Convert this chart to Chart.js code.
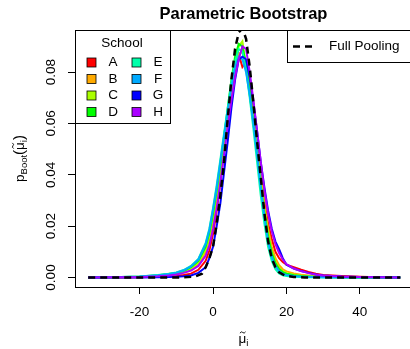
<!DOCTYPE html>
<html>
<head>
<meta charset="utf-8">
<script src="https://cdn.jsdelivr.net/npm/chart.js@4.4.1/dist/chart.umd.min.js"></script>
<style>
  html, body { margin: 0; padding: 0; background: #fff; overflow: hidden; }
  #wrap { width: 410px; height: 349px; overflow: hidden; }
</style>
</head>
<body>
<div id="wrap"><canvas id="bootChart" width="414" height="349"></canvas></div>
<script>
// schools and their colours (rainbow(9) in R)
const schools = ['A', 'B', 'C', 'D', 'E', 'F', 'G', 'H'];
const schoolColors = ['#FF0000', '#FFAA00', '#AAFF00', '#00FF00', '#00FFAA', '#00AAFF', '#0000FF', '#AA00FF'];

// x grid for the school densities
const muGrid = [-34, -25, -20, -15, -12, -10, -8, -6, -4, -2, -1, 0, 1, 2, 3, 4, 5, 6, 7, 8, 9, 10,
  11, 12, 13, 14, 15, 16, 17, 18, 19, 20, 22, 24, 26, 28, 30, 35, 40, 45, 51];

const densA = [0, 0, 0.0001, 0.0003, 0.0005, 0.0007, 0.001, 0.0015, 0.003, 0.0065, 0.0105, 0.017, 0.026, 0.037, 0.049, 0.061, 0.072, 0.081, 0.087, 0.082, 0.084, 0.074,
  0.063, 0.051, 0.039, 0.029, 0.021, 0.015, 0.010, 0.0075, 0.006, 0.005, 0.004, 0.003, 0.0022, 0.0015, 0.001, 0.0006, 0.0003, 0.0001, 0];
const densB = [0, 0.0001, 0.0002, 0.0005, 0.0009, 0.0013, 0.002, 0.003, 0.005, 0.010, 0.015, 0.022, 0.031, 0.041, 0.052, 0.063, 0.073, 0.082, 0.087, 0.088, 0.083, 0.074,
  0.063, 0.051, 0.039, 0.028, 0.019, 0.012, 0.0075, 0.0048, 0.0032, 0.0024, 0.0016, 0.0011, 0.0008, 0.0005, 0.0003, 0.0001, 0, 0, 0];
const densC = [0, 0.0002, 0.0004, 0.0009, 0.0015, 0.0017, 0.0022, 0.0035, 0.0058, 0.011, 0.016, 0.024, 0.033, 0.043, 0.053, 0.064, 0.075, 0.084, 0.090, 0.092, 0.082, 0.071,
  0.062, 0.050, 0.037, 0.026, 0.017, 0.010, 0.006, 0.0037, 0.0024, 0.0017, 0.0011, 0.0007, 0.0005, 0.0003, 0.0002, 0.0001, 0, 0, 0];
const densD = [0, 0.0001, 0.0003, 0.0008, 0.0013, 0.0018, 0.0026, 0.004, 0.0065, 0.012, 0.0175, 0.025, 0.034, 0.044, 0.055, 0.066, 0.077, 0.086, 0.091, 0.090, 0.083, 0.072,
  0.060, 0.048, 0.036, 0.025, 0.016, 0.0095, 0.0055, 0.0033, 0.0021, 0.0015, 0.0009, 0.0006, 0.0004, 0.0003, 0.0002, 0.0001, 0, 0, 0];
const densE = [0, 0.0002, 0.0004, 0.001, 0.0015, 0.002, 0.0029, 0.0045, 0.0072, 0.0135, 0.019, 0.027, 0.036, 0.046, 0.056, 0.066, 0.076, 0.084, 0.089, 0.088, 0.081, 0.070,
  0.058, 0.045, 0.032, 0.021, 0.012, 0.0065, 0.0032, 0.0016, 0.0009, 0.0006, 0.0003, 0.0002, 0.0001, 0.0001, 0, 0, 0, 0, 0];
const densF = [0, 0.0002, 0.0004, 0.0009, 0.0014, 0.0019, 0.0028, 0.0043, 0.007, 0.013, 0.0185, 0.0265, 0.035, 0.045, 0.055, 0.065, 0.074, 0.082, 0.086, 0.085, 0.080, 0.071,
  0.060, 0.048, 0.035, 0.024, 0.014, 0.008, 0.0045, 0.0025, 0.0015, 0.001, 0.0006, 0.0004, 0.0003, 0.0002, 0.0001, 0, 0, 0, 0];
const densG = [0, 0, 0, 0.0001, 0.0002, 0.0003, 0.0005, 0.0008, 0.0018, 0.004, 0.0075, 0.012, 0.020, 0.029, 0.041, 0.053, 0.066, 0.077, 0.085, 0.086, 0.085, 0.078,
  0.068, 0.057, 0.045, 0.035, 0.026, 0.019, 0.014, 0.011, 0.0075, 0.005, 0.0035, 0.0025, 0.0018, 0.0012, 0.0008, 0.0004, 0.0002, 0.0001, 0];
const densH = [0, 0.0001, 0.0002, 0.0005, 0.0008, 0.0012, 0.0018, 0.0027, 0.0045, 0.0085, 0.0125, 0.019, 0.027, 0.037, 0.048, 0.059, 0.069, 0.078, 0.085, 0.090, 0.089, 0.080,
  0.069, 0.057, 0.045, 0.034, 0.025, 0.018, 0.013, 0.0095, 0.007, 0.0052, 0.0035, 0.0025, 0.0017, 0.0012, 0.0008, 0.0004, 0.0002, 0.0001, 0];
const schoolDens = [densA, densB, densC, densD, densE, densF, densG, densH];

// full pooling curve
const poolGrid = [-34, -10, -5, -3, -2, -1, 0, 1, 2, 3, 4, 5, 6, 7, 8, 9, 10, 11, 12, 13, 14, 15, 16, 17, 18, 19, 20, 22, 25, 51];
const poolDens = [0, 0, 0.0003, 0.0015, 0.004, 0.0075, 0.012, 0.021, 0.032, 0.045, 0.062, 0.077, 0.089, 0.0955, 0.097, 0.093, 0.082,
  0.068, 0.053, 0.039, 0.025, 0.014, 0.0075, 0.004, 0.002, 0.0012, 0.0006, 0.0002, 0, 0];

const xTicks = [-20, 0, 20, 40];
const yTicks = [0, 0.02, 0.04, 0.06, 0.08];

const FONT = '"Liberation Sans", Arial, Helvetica, sans-serif';

const datasets = schools.map((s, i) => ({
  label: s,
  data: muGrid.map((x, j) => ({ x: x, y: schoolDens[i][j] })),
  borderColor: schoolColors[i],
  borderWidth: 2,
  pointRadius: 0,
  order: 8 - i
}));
datasets.push({
  label: 'Full Pooling',
  data: poolGrid.map((x, j) => ({ x: x, y: poolDens[j] })),
  borderColor: '#000000',
  borderWidth: 2.5,
  borderDash: [7, 5],
  pointRadius: 0,
  order: 0
});

// writes "mu" with a tilde on top, left edge at x, baseline at y; returns the width
function muTilde(ctx, x, y, size) {
  ctx.font = size + 'px ' + FONT;
  const w = ctx.measureText('\u03BC').width;
  ctx.fillText('\u03BC', x, y);
  const cx = x + w / 2 + 0.3, ty = y - size * 0.78, tw = size * 0.42;
  ctx.save();
  ctx.lineWidth = 0.9;
  ctx.strokeStyle = '#000';
  ctx.beginPath();
  ctx.moveTo(cx - tw / 2, ty + 0.7);
  ctx.quadraticCurveTo(cx - tw / 4, ty - 1.6, cx, ty);
  ctx.quadraticCurveTo(cx + tw / 4, ty + 1.6, cx + tw / 2, ty - 0.7);
  ctx.stroke();
  ctx.restore();
  return w;
}

// R style frame, titles and the two legends
const rDecor = {
  id: 'rDecor',
  afterDraw(chart) {
    const ctx = chart.ctx;
    const a = chart.chartArea;
    ctx.save();
    ctx.strokeStyle = '#000';
    ctx.lineWidth = 1;
    ctx.strokeRect(a.left + 0.5, a.top + 0.5, a.right - a.left, a.bottom - a.top);

    // main title
    ctx.fillStyle = '#000';
    ctx.font = 'bold 16.5px ' + FONT;
    ctx.textAlign = 'center';
    ctx.textBaseline = 'middle';
    ctx.fillText('Parametric Bootstrap', (a.left + a.right) / 2, 14);

    // x axis title
    ctx.textBaseline = 'alphabetic';
    ctx.textAlign = 'left';
    ctx.font = '13.5px ' + FONT;
    const wMu = ctx.measureText('\u03BC').width;
    ctx.font = '9.5px ' + FONT;
    const wI = ctx.measureText('i').width;
    const sx = (a.left + a.right) / 2 - (wMu + wI) / 2;
    muTilde(ctx, sx, 343, 13.5);
    ctx.font = '9.5px ' + FONT;
    ctx.fillText('i', sx + wMu, 346);

    // y axis title, rotated
    const pieces = [
      { t: 'p', f: '13.5px ', dy: 0 },
      { t: 'Boot', f: '9.5px ', dy: 3 },
      { t: '(', f: '15px ', dy: 0.5 },
      { t: 'mu', f: '13.5px ', dy: 0 },
      { t: 'i', f: '9.5px ', dy: 3 },
      { t: ')', f: '15px ', dy: 0.5 }
    ];
    let total = 0;
    pieces.forEach(p => {
      ctx.font = p.f + FONT;
      p.w = ctx.measureText(p.t === 'mu' ? '\u03BC' : p.t).width;
      total += p.w;
    });
    ctx.save();
    ctx.translate(19, (a.top + a.bottom) / 2);
    ctx.rotate(-Math.PI / 2);
    let px = -total / 2;
    pieces.forEach(p => {
      if (p.t === 'mu') {
        muTilde(ctx, px, 4.5, 13.5);
      } else {
        ctx.font = p.f + FONT;
        ctx.fillText(p.t, px, 4.5 + p.dy);
      }
      px += p.w;
    });
    ctx.restore();

    // school legend
    const lx = a.left, ly = a.top, lw = 95, lh = 93;
    ctx.fillStyle = '#fff';
    ctx.fillRect(lx + 0.5, ly + 0.5, lw, lh);
    ctx.strokeStyle = '#000';
    ctx.strokeRect(lx + 0.5, ly + 0.5, lw, lh);
    ctx.fillStyle = '#000';
    ctx.font = '13.5px ' + FONT;
    ctx.textAlign = 'center';
    ctx.textBaseline = 'middle';
    ctx.fillText('School', lx + 47, ly + 13);
    const rowY = [32.5, 49, 65.5, 82];
    schools.forEach((s, i) => {
      const col = Math.floor(i / 4), row = i % 4;
      const bx = lx + 12 + col * 45, by = ly + rowY[row];
      ctx.fillStyle = schoolColors[i];
      ctx.fillRect(bx, by - 4.5, 9, 9);
      ctx.strokeStyle = '#000';
      ctx.lineWidth = 0.8;
      ctx.strokeRect(bx, by - 4.5, 9, 9);
      ctx.fillStyle = '#000';
      ctx.fillText(s, bx + 26, by);
    });

    // full pooling legend
    const gx = 287, gy = a.top, gw = 130, gh = 32;
    ctx.fillStyle = '#fff';
    ctx.fillRect(gx + 0.5, gy + 0.5, gw, gh);
    ctx.strokeStyle = '#000';
    ctx.lineWidth = 1;
    ctx.strokeRect(gx + 0.5, gy + 0.5, gw, gh);
    ctx.setLineDash([7, 5]);
    ctx.lineWidth = 2.5;
    ctx.beginPath();
    ctx.moveTo(gx + 6, gy + 16.5);
    ctx.lineTo(gx + 26, gy + 16.5);
    ctx.stroke();
    ctx.setLineDash([]);
    ctx.fillStyle = '#000';
    ctx.textAlign = 'left';
    ctx.fillText('Full Pooling', gx + 42, gy + 16.5);
    ctx.restore();
  }
};

new Chart(document.getElementById('bootChart').getContext('2d'), {
  type: 'line',
  data: { datasets: datasets },
  options: {
    responsive: false,
    animation: false,
    events: [],
    layout: { padding: { left: 0, right: 2, top: 30, bottom: 0 } },
    plugins: { legend: { display: false }, tooltip: { enabled: false } },
    elements: { line: { tension: 0 } },
    scales: {
      x: {
        type: 'linear',
        min: -37.6,
        max: 54.2,
        afterBuildTicks: scale => { scale.ticks = xTicks.map(v => ({ value: v })); },
        afterFit: scale => { scale.height = 62; },
        grid: { drawOnChartArea: false, drawTicks: true, tickLength: 7, color: '#000', lineWidth: 1 },
        border: { display: false },
        ticks: { color: '#000', font: { family: FONT, size: 13.5 }, padding: 10, maxRotation: 0 }
      },
      y: {
        type: 'linear',
        min: -0.0037,
        max: 0.0964,
        afterBuildTicks: scale => { scale.ticks = yTicks.map(v => ({ value: v })); },
        afterFit: scale => { scale.width = 75; },
        grid: { drawOnChartArea: false, drawTicks: true, tickLength: 7, color: '#000', lineWidth: 1 },
        border: { display: false },
        ticks: {
          color: '#000',
          font: { family: FONT, size: 13.5 },
          padding: 4,
          minRotation: 90,
          maxRotation: 90,
          crossAlign: 'center',
          callback: v => v.toFixed(2)
        }
      }
    }
  },
  plugins: [rDecor]
});
</script>
</body>
</html>
